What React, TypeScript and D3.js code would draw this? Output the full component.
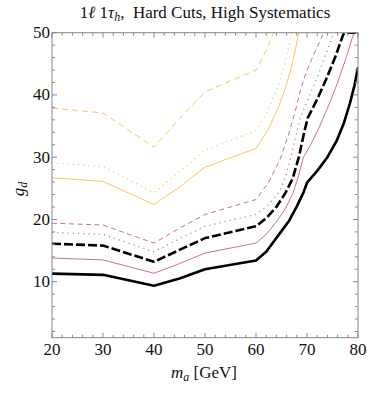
import React from "react";
import * as d3 from "d3";

const xTicks = [20, 30, 40, 50, 60, 70, 80];
const yTicks = [10, 20, 30, 40, 50];

const blackSolid: [number, number][] = [[20, 11.3], [30, 11.1], [40, 9.35], [45, 10.5], [50, 12.0], [60, 13.4], [62, 14.8], [64.7, 17.8], [66.5, 19.8], [68, 22.1], [69.3, 24.3], [70, 25.9], [72, 27.8], [74, 30.0], [75.8, 32.6], [77.2, 35.4], [78.4, 38.6], [79.3, 41.5], [80, 44.4]];
const blackDashed: [number, number][] = [[20, 16.1], [30, 15.8], [40, 13.2], [45, 15.1], [50, 17.0], [60, 18.9], [62, 20.2], [64, 22.0], [65.8, 24.3], [67.2, 26.6], [68.4, 30.0], [69.5, 34.2], [70.2, 36.4], [72, 39.3], [73.8, 42.6], [75.5, 46.0], [77.1, 49.7], [77.4, 50], [80, 50]];
const pinkSolid: [number, number][] = [[20, 13.8], [30, 13.5], [40, 11.35], [45, 12.9], [50, 14.6], [60, 16.2], [62, 17.6], [64, 19.6], [65.8, 21.8], [67.3, 24.3], [68.4, 27.2], [69.3, 30.0], [70.6, 31.8], [72.5, 35.0], [74.5, 38.8], [76, 42.0], [77.6, 45.8], [79.2, 50]];
const pinkDotted: [number, number][] = [[20, 17.9], [30, 17.6], [40, 14.8], [45, 16.9], [50, 18.9], [60, 20.8], [62, 22.0], [63.5, 23.3], [64.7, 24.6], [66, 27.4], [67.3, 31.6], [68.6, 36.1], [70.5, 39.9], [72.5, 43.9], [74, 47.2], [75.3, 50]];
const pinkDashed: [number, number][] = [[20, 19.4], [30, 19.1], [40, 16.2], [45, 18.6], [50, 20.8], [60, 23.2], [62.5, 26.0], [64.7, 29.6], [66.3, 33.4], [67.7, 37.4], [68.8, 41.0], [70, 44.0], [71.6, 47.0], [73.3, 50]];
const orangeSolid: [number, number][] = [[20, 26.7], [30, 26.1], [40, 22.4], [45, 25.2], [50, 28.4], [60, 31.4], [62.3, 34.3], [64.3, 37.8], [65.8, 41.2], [66.9, 44.3], [67.7, 47.2], [68.4, 50]];
const orangeDotted: [number, number][] = [[20, 29.1], [30, 28.5], [40, 24.3], [45, 27.7], [50, 31.1], [60, 34.3], [62.3, 37.4], [64.3, 41.3], [65.8, 45.5], [67, 50]];
const orangeDashed: [number, number][] = [[20, 37.9], [30, 37.1], [40, 31.6], [45, 36.2], [50, 40.5], [60, 44.0], [61.8, 46.8], [63.5, 50]];

const W = 374, H = 396;
const left = 52, right = 358, top = 32.7, bottom = 337.7;

const x = d3.scaleLinear().domain([20, 80]).range([left, right]);
const y = d3.scaleLinear().domain([1, 50]).range([bottom, top]);

const PINK = "#cf6f8c";
const ORANGE = "#ffc35e";
const FONT = "'Liberation Serif', 'Times New Roman', Times, 'DejaVu Serif', serif";

const series = [
  { data: orangeDashed, color: ORANGE, width: 1, dash: "6,4" },
  { data: orangeDotted, color: ORANGE, width: 1.2, dash: "1.2,4" },
  { data: orangeSolid, color: ORANGE, width: 1, dash: "" },
  { data: pinkDashed, color: PINK, width: 1, dash: "5,3.5" },
  { data: pinkDotted, color: PINK, width: 1.2, dash: "1.2,4" },
  { data: pinkSolid, color: PINK, width: 1, dash: "" },
  { data: blackDashed, color: "#000", width: 2.6, dash: "9,3" },
  { data: blackSolid, color: "#000", width: 2.6, dash: "" },
];

export default function App() {
  const line = d3.line<[number, number]>().x(d => x(d[0])).y(d => y(d[1])).curve(d3.curveLinear);
  const minorX = d3.range(20, 80.01, 2);
  const minorY = d3.range(2, 50.01, 2);
  const axisCol = "#888";
  const fs = 17;
  return (
    <svg width={W} height={H} style={{ position: "absolute", left: 0, top: 0, fontFamily: FONT }}>
      <rect width={W} height={H} fill="#fff" />
      <defs>
        <clipPath id="clip"><rect x={left} y={top} width={right - left} height={bottom - top} /></clipPath>
      </defs>
      <g clipPath="url(#clip)">
        {series.map((s, i) => (
          <path key={i} d={line(s.data) || ""} fill="none" stroke={s.color} strokeWidth={s.width} strokeDasharray={s.dash || undefined} strokeLinejoin="round" />
        ))}
      </g>
      <rect x={left} y={top} width={right - left} height={bottom - top} fill="none" stroke={axisCol} strokeWidth={1} />
      {minorX.map(v => {
        const major = v % 10 === 0;
        const len = major ? 5 : 3;
        return (
          <g key={"x" + v}>
            <line x1={x(v)} x2={x(v)} y1={bottom} y2={bottom - len} stroke={axisCol} />
            <line x1={x(v)} x2={x(v)} y1={top} y2={top + len} stroke={axisCol} />
          </g>
        );
      })}
      {minorY.map(v => {
        const major = v % 10 === 0;
        const len = major ? 5 : 3;
        return (
          <g key={"y" + v}>
            <line x1={left} x2={left + len} y1={y(v)} y2={y(v)} stroke={axisCol} />
            <line x1={right} x2={right - len} y1={y(v)} y2={y(v)} stroke={axisCol} />
          </g>
        );
      })}
      {xTicks.map(v => (
        <text key={"xt" + v} x={x(v)} y={355} fontSize={fs} textAnchor="middle" fill="#111" style={{ fontFamily: FONT }}>{v}</text>
      ))}
      {yTicks.map(v => (
        <text key={"yt" + v} x={left - 2} y={y(v) + 5.5} fontSize={fs} textAnchor="end" fill="#111" style={{ fontFamily: FONT }}>{v}</text>
      ))}
      <text x={204} y={378} fontSize={fs} textAnchor="middle" fill="#111" style={{ fontFamily: FONT }}>
        <tspan fontStyle="italic">m</tspan><tspan fontStyle="italic" fontSize={12} dy={3}>a</tspan><tspan dy={-3}> [GeV]</tspan>
      </text>
      <text transform={`translate(24,${189}) rotate(-90)`} fontSize={fs} textAnchor="middle" fill="#111" style={{ fontFamily: FONT }}>
        <tspan fontStyle="italic">g</tspan><tspan fontStyle="italic" fontSize={12} dy={3}>d</tspan>
      </text>
      <text x={205} y={18} fontSize={fs} textAnchor="middle" fill="#111" style={{ fontFamily: FONT }}>
        <tspan>1</tspan><tspan fontStyle="italic">ℓ</tspan><tspan> 1</tspan><tspan fontStyle="italic">τ</tspan><tspan fontStyle="italic" fontSize={12} dy={3}>h</tspan><tspan dy={-3} style={{ whiteSpace: "pre" }}>,  Hard Cuts, High Systematics</tspan>
      </text>
    </svg>
  );
}
